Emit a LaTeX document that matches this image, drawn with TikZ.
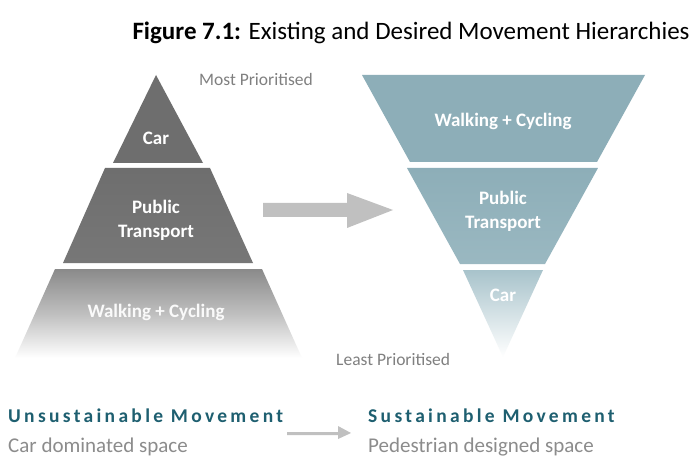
\documentclass[tikz,border=0pt]{standalone}
\usepackage{fontspec}
\setmainfont{Carlito}
\newfontfamily\spaced[LetterSpace=17]{Carlito}
\definecolor{darkg}{HTML}{6E6E6E}
\definecolor{midg}{HTML}{777777}
\definecolor{lowg}{HTML}{8A8A8A}
\definecolor{tealA}{HTML}{8DAEB8}
\definecolor{tealB}{HTML}{9AB8C1}
\definecolor{tealC}{HTML}{A8C3CB}
\definecolor{headteal}{HTML}{1E5F70}
\definecolor{subgray}{HTML}{8C8C8C}
\definecolor{prigray}{HTML}{808080}
\definecolor{arrowgray}{HTML}{C0C0C0}
\tikzset{
  band/.style={draw=none},
  lbl/.style={text=white, font=\fontsize{19}{23}\selectfont\bfseries, anchor=base, inner sep=0pt},
  pri/.style={text=prigray, font=\fontsize{17.5}{20}\selectfont, anchor=base west, inner sep=0pt},
  head/.style={text=headteal, font=\fontsize{19.5}{22}\selectfont\spaced\bfseries, anchor=base west, inner sep=0pt},
  sub/.style={text=subgray, font=\fontsize{21}{24}\selectfont, anchor=base west, inner sep=0pt},
  blockarrow/.style={fill=arrowgray, draw=none}
}
\begin{document}
\begin{tikzpicture}[x=1pt,y=-1pt]
\useasboundingbox (0,0) rectangle (696,457);
\fill[white] (0,0) rectangle (696,457);
% title
\node[anchor=base, inner sep=0pt, font=\fontsize{25}{29}\selectfont] (title) at (411,40) {\textbf{Figure 7.1:} Existing and Desired Movement Hierarchies};
% left pyramid
\shade[band, top color=darkg, bottom color=darkg] (156,75) -- (203,163) -- (113,163) -- cycle;
\shade[band, top color=darkg, bottom color=midg] (105,168) -- (210,168) -- (253,263) -- (63,263) -- cycle;
\shade[band, top color=lowg, bottom color=white, middle color=lowg!55!white] (55,269) -- (262,269) -- (302,358) -- (15,358) -- cycle;
\node[lbl] (lcar) at (156,145) {Car};
\node[lbl] (lpt1) at (156,214) {Public};
\node[lbl] (lpt2) at (156,237) {Transport};
\node[lbl, text=white!96!gray] (lwc) at (156,317) {Walking + Cycling};
% right pyramid
\shade[band, top color=tealA, bottom color=tealA] (362,75) -- (645,75) -- (597,162) -- (410,162) -- cycle;
\shade[band, top color=tealA, bottom color=tealB] (407,168) -- (598,168) -- (545,264) -- (460,264) -- cycle;
\shade[band, top color=tealC, bottom color=white] (463,270) -- (543,270) -- (503,357) -- cycle;
\node[lbl] (rwc) at (503,127) {Walking + Cycling};
\node[lbl] (rpt1) at (503,205) {Public};
\node[lbl] (rpt2) at (503,229) {Transport};
\node[lbl] (rcar) at (503,301) {Car};
% big arrow
\fill[blockarrow] (263,203) -- (347,203) -- (347,193) -- (393,210) -- (347,228) -- (347,217) -- (263,217) -- cycle;
% priority labels
\node[pri] (most) at (199,86) {Most Prioritised};
\node[pri] (least) at (336,365) {Least Prioritised};
% bottom captions
\node[head] (unsus) at (8,422) {Unsustainable Movement};
\node[sub] (cardom) at (8,452) {Car dominated space};
\node[head] (sus) at (368,422) {Sustainable Movement};
\node[sub] (ped) at (368,452) {Pedestrian designed space};
\fill[blockarrow] (287,432) -- (338,432) -- (338,426) -- (351,433) -- (338,439) -- (338,435) -- (287,435) -- cycle;
\end{tikzpicture}
\end{document}
